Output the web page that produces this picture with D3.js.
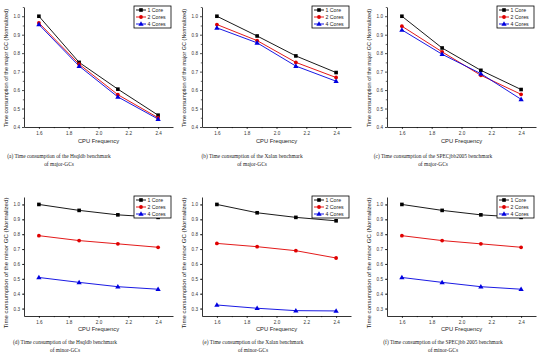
<!DOCTYPE html>
<html><head><meta charset="utf-8">
<script src="https://cdn.jsdelivr.net/npm/d3@7"></script>
<style>body{margin:0;background:#fff}svg{display:block}</style>
</head><body>
<script>
// ---- data ----
const cpuFreq = [1.6, 1.87, 2.13, 2.4];
const seriesNames = ["1 Core", "2 Cores", "4 Cores"];
const xTickVals = [1.6, 1.8, 2.0, 2.2, 2.4];
const xTickLabels = ["1.6", "1.8", "2.0", "2.2", "2.4"];
const yTicksMajorTop = [0.4, 0.5, 0.6, 0.7, 0.8, 0.9, 1.0];
const yTicksMajorBottom = [0.3, 0.4, 0.5, 0.6, 0.7, 0.8, 0.9, 1.0];

// (a) Hsqldb major
const hsqldbMajor1 = [1.0, 0.75, 0.605, 0.464];
const hsqldbMajor2 = [0.964, 0.74, 0.575, 0.45];
const hsqldbMajor4 = [0.955, 0.73, 0.563, 0.443];
// (b) Xalan major
const xalanMajor1 = [1.0, 0.893, 0.785, 0.695];
const xalanMajor2 = [0.955, 0.868, 0.75, 0.668];
const xalanMajor4 = [0.937, 0.856, 0.73, 0.648];
// (c) SPECjbb2005 major
const specMajor1 = [1.0, 0.828, 0.707, 0.603];
const specMajor2 = [0.946, 0.807, 0.68, 0.577];
const specMajor4 = [0.926, 0.794, 0.689, 0.55];
// (d) Hsqldb minor
const hsqldbMinor1 = [1.0, 0.96, 0.93, 0.913];
const hsqldbMinor2 = [0.79, 0.757, 0.735, 0.712];
const hsqldbMinor4 = [0.509, 0.476, 0.447, 0.43];
// (e) Xalan minor
const xalanMinor1 = [1.0, 0.944, 0.913, 0.89];
const xalanMinor2 = [0.738, 0.716, 0.689, 0.64];
const xalanMinor4 = [0.324, 0.302, 0.286, 0.284];
// (f) SPECjbb 2005 minor
const specMinor1 = [1.0, 0.96, 0.93, 0.913];
const specMinor2 = [0.79, 0.757, 0.735, 0.712];
const specMinor4 = [0.509, 0.476, 0.447, 0.43];

const captions1 = [
  "(a) Time consumption of the Hsqldb benchmark",
  "(b) Time consumption of the Xalan benchmark",
  "(c) Time consumption of the SPECjbb2005 benchmark",
  "(d) Time consumption of the Hsqldb benchmark",
  "(e) Time consumption of the Xalan benchmark",
  "(f) Time consumption of the SPECjbb 2005 benchmark"
];
const captions2 = ["of major-GCs","of major-GCs","of major-GCs","of minor-GCs","of minor-GCs","of minor-GCs"];
const yTitles = ["Time consumption of the major GC (Normalized)", "Time consumption of the minor GC (Normalized)"];
const xTitle = "CPU Frequency";

// ---- layout ----
const colors = ["#000000", "#e00000", "#0000e0"];
const colX = [24, 202, 387];
const capCx = [59, 252, 433, 65, 253, 443];
const plotW = 149;
const sans = "'Liberation Sans', Arial, sans-serif";
const serif = "'Liberation Serif', 'Times New Roman', serif";
const rows = [
  {top: 7, bottom: 127, dom: [0.4, 1.05], ticks: yTicksMajorTop, titleY: 143, cap1Y: 158, cap2Y: 166, ytFont: 5.5, ytCenter: 68},
  {top: 197, bottom: 316, dom: [0.25, 1.05], ticks: yTicksMajorBottom, titleY: 331, cap1Y: 344, cap2Y: 352, ytFont: 6.1, ytCenter: 263}
];
const panelData = [
  [hsqldbMajor1, hsqldbMajor2, hsqldbMajor4],
  [xalanMajor1, xalanMajor2, xalanMajor4],
  [specMajor1, specMajor2, specMajor4],
  [hsqldbMinor1, hsqldbMinor2, hsqldbMinor4],
  [xalanMinor1, xalanMinor2, xalanMinor4],
  [specMinor1, specMinor2, specMinor4]
];

const svg = d3.select("body").append("svg").attr("width", 549).attr("height", 359);
svg.append("rect").attr("width", 549).attr("height", 359).attr("fill", "#fff");

function marker(g, type, x, y, color) {
  if (type === 0) {
    g.append("rect").attr("x", x - 1.8).attr("y", y - 1.8).attr("width", 3.6).attr("height", 3.6).attr("fill", color);
  } else if (type === 1) {
    g.append("circle").attr("cx", x).attr("cy", y).attr("r", 1.9).attr("fill", color);
  } else {
    g.append("path").attr("d", d3.symbol(d3.symbolTriangle, 12)()).attr("transform", `translate(${x},${y+0.3})`).attr("fill", color);
  }
}

panelData.forEach((series, i) => {
  const row = rows[Math.floor(i / 3)];
  const col = i % 3;
  const x0 = colX[col];
  const g = svg.append("g");
  const x = d3.scaleLinear().domain([1.5, 2.5]).range([x0, x0 + plotW]);
  const y = d3.scaleLinear().domain(row.dom).range([row.bottom, row.top]);

  const yMinor = d3.range(row.dom[0] + 0.05, row.dom[1], 0.1).map(v => +v.toFixed(2));
  const ya = g.append("g").attr("transform", `translate(${x0},0)`)
    .call(d3.axisLeft(y).tickValues(row.ticks).tickFormat(d3.format(".1f")).tickSize(2).tickSizeOuter(0).tickPadding(2));
  ya.selectAll("text").attr("font-family", sans).attr("font-size", 4.6).attr("fill", "#333");
  ya.select(".domain").attr("stroke", "#000").attr("stroke-width", 0.8);
  ya.selectAll(".tick line").attr("stroke-width", 0.7);
  g.append("g").attr("transform", `translate(${x0},0)`)
    .call(d3.axisLeft(y).tickValues(yMinor).tickFormat("").tickSize(1.2).tickSizeOuter(0))
    .call(a => a.select(".domain").remove())
    .selectAll(".tick line").attr("stroke-width", 0.6);

  const xa = g.append("g").attr("transform", `translate(0,${row.bottom})`)
    .call(d3.axisBottom(x).tickValues(xTickVals).tickFormat((d, k) => xTickLabels[k]).tickSize(2).tickSizeOuter(0).tickPadding(2.5));
  xa.selectAll("text").attr("font-family", sans).attr("font-size", 4.6).attr("fill", "#333");
  xa.select(".domain").attr("stroke", "#000").attr("stroke-width", 0.8);
  xa.selectAll(".tick line").attr("stroke-width", 0.7);
  g.append("g").attr("transform", `translate(0,${row.bottom})`)
    .call(d3.axisBottom(x).tickValues([1.7, 1.9, 2.1, 2.3]).tickFormat("").tickSize(1.2).tickSizeOuter(0))
    .call(a => a.select(".domain").remove())
    .selectAll(".tick line").attr("stroke-width", 0.6);

  g.append("text").attr("x", x0 + plotW / 2).attr("y", row.titleY).attr("text-anchor", "middle")
    .attr("font-family", sans).attr("font-size", 5.8).attr("fill", "#222").text(xTitle);
  g.append("text").attr("transform", `translate(${x0 - 16},${row.ytCenter}) rotate(-90)`).attr("text-anchor", "middle")
    .attr("font-family", sans).attr("font-size", row.ytFont).attr("fill", "#222")
    .text(yTitles[Math.floor(i / 3)]);

  g.append("text").attr("x", capCx[i]).attr("y", row.cap1Y).attr("text-anchor", "middle")
    .attr("font-family", serif).attr("font-size", 5.4).attr("fill", "#222").text(captions1[i]);
  g.append("text").attr("x", capCx[i]).attr("y", row.cap2Y).attr("text-anchor", "middle")
    .attr("font-family", serif).attr("font-size", 5.4).attr("fill", "#222").text(captions2[i]);

  const line = d3.line().x((d, k) => x(cpuFreq[k])).y(d => y(d));
  series.forEach((s, si) => {
    g.append("path").attr("d", line(s)).attr("fill", "none").attr("stroke", colors[si]).attr("stroke-width", 0.9);
  });
  series.forEach((s, si) => {
    s.forEach((v, k) => marker(g, si, x(cpuFreq[k]), y(v), colors[si]));
  });

  const lw = 37, lh = 22;
  const lx = x0 + plotW - 2 - lw, ly = row.top - 1;
  const lg = g.append("g");
  lg.append("rect").attr("x", lx).attr("y", ly).attr("width", lw).attr("height", lh)
    .attr("fill", "#fff").attr("stroke", "#000").attr("stroke-width", 0.8);
  seriesNames.forEach((nm, si) => {
    const yy = ly + 4 + si * 7;
    lg.append("line").attr("x1", lx + 2).attr("x2", lx + 12).attr("y1", yy).attr("y2", yy)
      .attr("stroke", colors[si]).attr("stroke-width", 0.9);
    marker(lg, si, lx + 7, yy, colors[si]);
    lg.append("text").attr("x", lx + 13.5).attr("y", yy + 1.8).attr("font-family", sans)
      .attr("font-size", 5.2).attr("fill", "#222").text(nm);
  });
});
</script>
</body></html>
